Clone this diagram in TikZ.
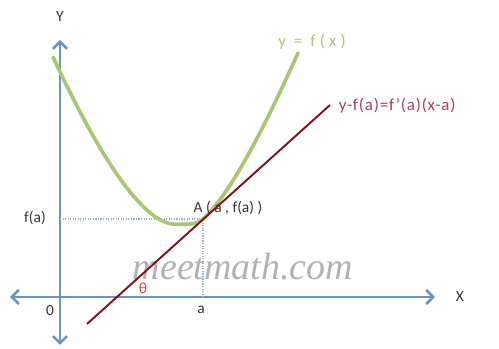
\documentclass[tikz,border=0pt]{standalone}
\usepackage{fontspec}
\setmainfont{Carlito}
\newfontfamily\markfont{Liberation Serif}
\usetikzlibrary{arrows.meta,calc,positioning}
\definecolor{axisblue}{RGB}{105,148,196}
\definecolor{curvegreen}{RGB}{170,198,116}
\definecolor{tangred}{RGB}{128,22,34}
\definecolor{labelred}{RGB}{170,60,90}
\definecolor{thetared}{RGB}{220,70,70}

\begin{document}
\begin{tikzpicture}[
    axis/.style={draw=axisblue, line width=1.8pt, {Straight Barb[length=5pt,width=10pt]}-{Straight Barb[length=5pt,width=10pt]}},
    guide/.style={draw=axisblue!70, densely dotted, line width=0.8pt},
    curve/.style={draw=curvegreen, line width=2.6pt, line cap=round},
    tangent/.style={draw=tangred, line width=1.4pt},
    lbl/.style={font=\fontsize{11}{12}\selectfont, text=black!80, inner sep=1pt}
]
\useasboundingbox (-1.5,-1.3) rectangle (10.975,7.425);

% watermark
\node[text=gray!60, font=\markfont\itshape\fontsize{27}{27}\selectfont] (mark) at (4.575,0.75) {meetmath.com};

% axes
\coordinate (xl) at (-1.25,0);
\coordinate (xr) at (9.375,0);
\coordinate (yb) at (0,-1.2);
\coordinate (yt) at (0,6.425);
\draw[axis] (xl) -- (xr);
\draw[axis] (yb) -- (yt);
\node[lbl] (ylab) at (0,7.0) {Y};
\node[lbl] (xlab) at (10.0,0) {X};
\node[lbl] (orig) at (-0.25,-0.33) {0};

% point of contact
\coordinate (A) at (3.575,1.95);
\coordinate (afoot) at (3.575,0);
\coordinate (fafoot) at (0,1.95);
\draw[guide] (fafoot) -- (A) -- (afoot);
\node[lbl] (alab) at (3.53,-0.33) {a};
\node[lbl] (falab) at (-0.625,1.975) {f(a)};

% curve y = f(x)
\coordinate (cs) at (-0.175,6.0);
\coordinate (cm) at (2.9,1.82);
\coordinate (ce) at (5.95,6.1);
\draw[curve] (cs) .. controls (0.8,3.9) and (2.0,1.8) .. (cm)
    .. controls (3.15,1.82) and (3.4,1.79) .. (A)
    .. controls (4.4,2.69) and (5.45,5.0) .. (ce);
\node[text=curvegreen, font=\fontsize{12}{13}\selectfont\addfontfeature{LetterSpace=25}] (flab) at (6.3,6.375) {y = f(x)};

% tangent line
\coordinate (t0) at (0.675,-0.675);
\coordinate (t1) at (6.75,4.8);
\draw[tangent] (t0) -- (t1);
\node[text=labelred, font=\fontsize{12}{13}\selectfont\addfontfeature{LetterSpace=5}, anchor=west] (tlab) at (6.85,4.775) {y-f(a)=f'(a)(x-a)};
\node[text=thetared, font=\fontsize{11}{12}\selectfont] (theta) at (2.075,0.225) {θ};

\node[lbl, anchor=west] (Alab) at (3.3,2.225) {A ( a , f(a) )};

\end{tikzpicture}
\end{document}
